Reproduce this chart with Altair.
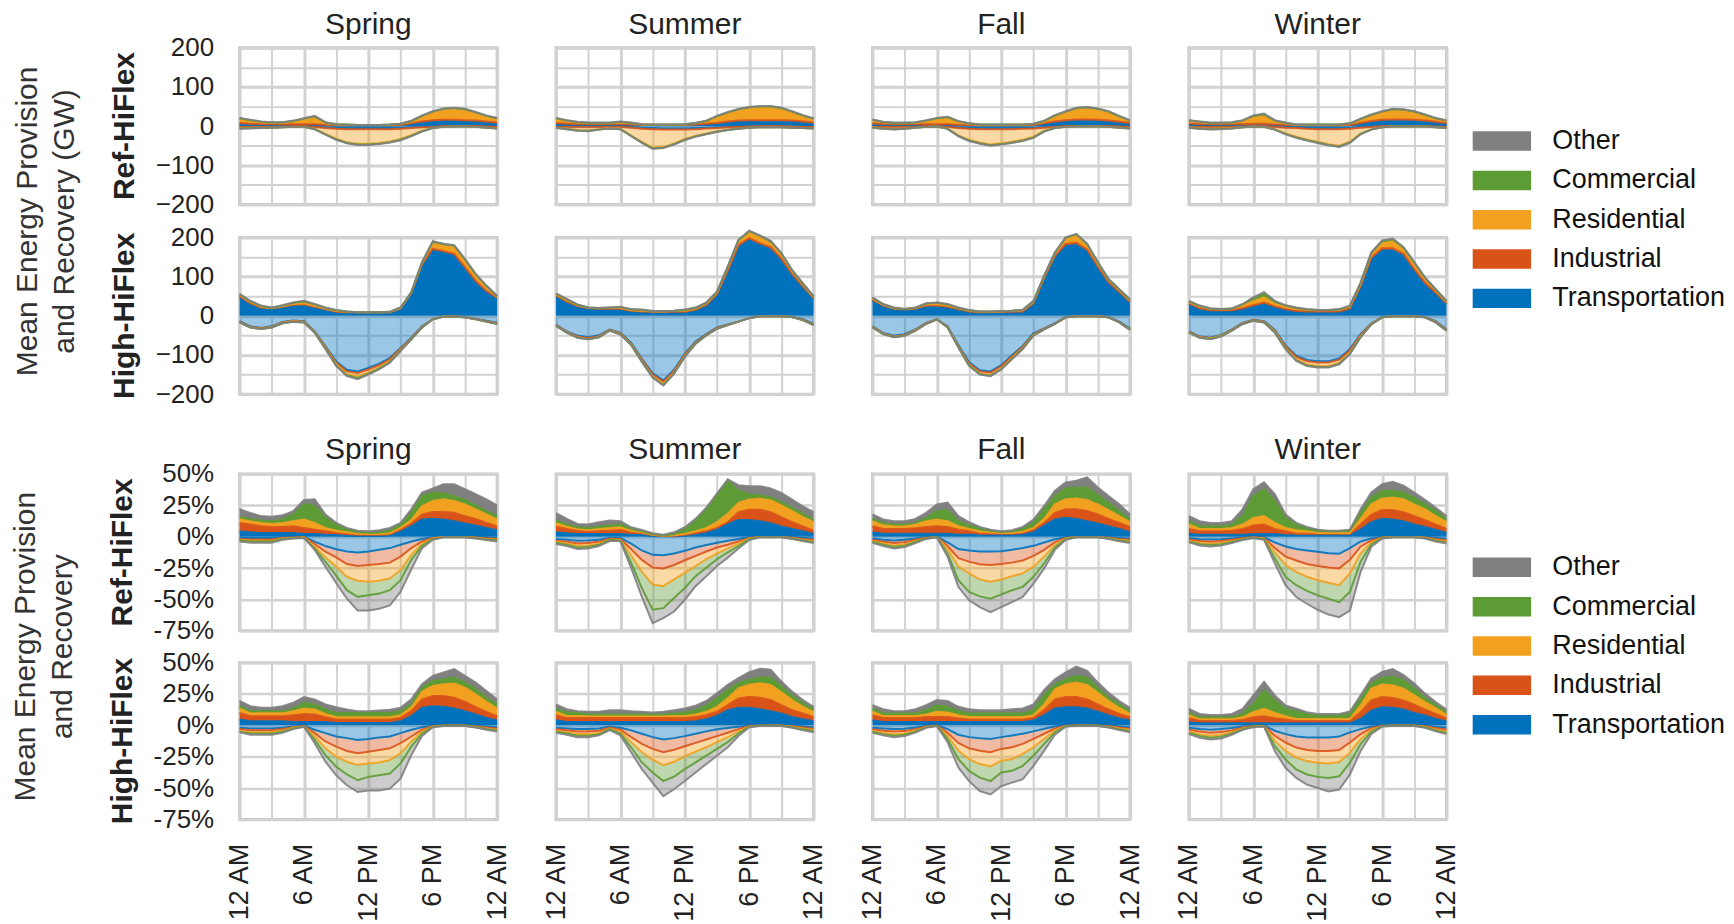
import altair as alt
import pandas as pd

FONT = "Liberation Sans"
HOURS = list(range(25))
SECTORS = ["Transportation", "Industrial", "Residential", "Commercial", "Other"]
LEGEND_ORDER = ["Other", "Commercial", "Residential", "Industrial", "Transportation"]
LEGEND_COLORS = ["#808080", "#5D9B34", "#F2A01F", "#D95319", "#0072BD"]
SEASONS = ["Spring", "Summer", "Fall", "Winter"]
SCENARIOS = ["Ref-HiFlex", "High-HiFlex"]
HOUR_TICKS = [0, 3, 6, 9, 12, 15, 18, 21, 24]
HOUR_LABEL_AT = [0, 6, 12, 18, 24]
HOUR_LABEL_TEXT = ["12 AM", "6 AM", "12 PM", "6 PM", "12 AM"]
GW_TICKS = [-200, -150, -100, -50, 0, 50, 100, 150, 200]
GW_LABELED = [-200, -100, 0, 100, 200]
PCT_TICKS = [-75, -50, -25, 0, 25, 50]
GW_TITLE = ["Mean Energy Provision", "and Recovery (GW)"]
PCT_TITLE = ["Mean Energy Provision", "and Recovery"]

# Each panel: cumulative stack edges (Transportation, +Industrial, +Residential, +Commercial, +Other), hours 0..24
# ---------------- GW, Ref-HiFlex ----------------
GW_REF_SPRING_UP = [
    [5,4,3,3,3,3,3,3,2,1,1,1,1,1,1,2,5,9,12,13,13,12,11,9,6],
    [8,6,5,5,5,5,5,5,3,2,2,2,2,2,2,3,7,12,15,16,16,15,14,12,9],
    [18,13,10,8,8,11,16,21,7,4,3,3,3,3,3,5,11,23,34,41,43,40,33,24,18],
    [20,15,11,9,9,13,19,25,9,5,4,3,3,3,4,6,13,26,37,44,46,43,35,26,20],
    [21,16,12,10,10,14,20,26,10,5,4,3,3,3,4,6,14,27,38,45,47,44,36,27,21]]
GW_REF_SPRING_DN = [
    [-1,-1,-1,-1,-1,0,0,-1,-3,-4,-5,-5,-5,-5,-5,-4,-3,-2,-1,0,0,0,0,0,-1],
    [-2,-2,-2,-2,-1,0,0,-2,-5,-7,-8,-8,-8,-8,-8,-7,-5,-3,-2,0,0,0,0,-1,-2],
    [-5,-4,-4,-4,-3,-2,-2,-7,-20,-32,-41,-45,-45,-43,-39,-33,-23,-12,-5,-2,-1,-1,-2,-4,-5],
    [-6,-5,-5,-4,-3,-2,-2,-8,-21,-34,-43,-47,-47,-45,-41,-35,-25,-13,-5,-2,-1,-1,-2,-4,-6],
    [-7,-6,-5,-4,-3,-2,-2,-8,-22,-35,-44,-48,-48,-46,-42,-36,-26,-14,-5,-2,-1,-1,-2,-4,-6]]
GW_REF_SUMMER_UP = [
    [5,4,3,3,3,3,3,2,2,2,2,2,2,3,4,6,9,11,12,12,12,12,11,9,6],
    [8,6,5,5,5,5,5,4,3,3,3,3,3,4,6,8,12,14,15,15,15,15,14,12,9],
    [18,12,9,7,7,7,9,7,4,3,3,3,4,7,12,23,33,40,45,47,47,43,35,25,17],
    [20,14,10,8,8,8,11,8,5,4,4,4,5,8,13,25,35,43,48,50,50,46,37,27,19],
    [21,15,11,9,9,9,12,9,5,4,4,4,5,8,14,26,36,44,49,51,51,47,38,28,20]]
GW_REF_SUMMER_DN = [
    [-1,-1,-1,-1,-1,-1,-1,-2,-4,-5,-6,-6,-6,-5,-4,-3,-2,-1,-1,0,0,0,0,-1,-1],
    [-2,-2,-2,-2,-2,-2,-2,-4,-7,-8,-9,-9,-9,-8,-6,-5,-3,-2,-1,0,0,0,-1,-2,-2],
    [-4,-7,-10,-11,-8,-5,-7,-24,-40,-55,-53,-44,-33,-25,-19,-13,-9,-6,-4,-3,-3,-3,-4,-5,-6],
    [-4,-8,-11,-12,-9,-6,-8,-25,-42,-57,-55,-46,-35,-26,-20,-14,-10,-7,-4,-3,-3,-3,-4,-5,-6],
    [-4,-8,-12,-13,-9,-6,-8,-26,-43,-58,-56,-47,-36,-27,-21,-15,-10,-7,-4,-3,-3,-3,-4,-5,-6]]
GW_REF_FALL_UP = [
    [4,3,3,3,3,3,3,3,2,1,1,1,1,1,1,2,5,9,12,14,14,13,11,8,5],
    [7,5,5,5,5,5,5,5,3,2,2,2,2,2,2,3,7,12,15,17,17,16,14,11,8],
    [14,9,7,7,8,12,17,19,10,6,3,3,3,3,3,5,11,24,34,43,45,41,35,23,12],
    [16,10,8,8,9,14,20,23,12,7,4,4,4,4,4,6,13,27,37,46,48,44,37,25,14],
    [17,11,9,9,10,15,21,24,13,7,4,4,4,4,4,6,14,28,38,47,49,45,38,26,15]]
GW_REF_FALL_DN = [
    [-1,-1,-1,-1,-1,0,0,-1,-3,-4,-5,-5,-5,-5,-4,-4,-2,-1,0,0,0,0,0,-1,-1],
    [-2,-2,-2,-2,-2,0,0,-2,-5,-7,-8,-8,-8,-8,-7,-6,-4,-2,0,0,0,0,0,-1,-2],
    [-3,-6,-7,-6,-4,-2,-1,-6,-24,-35,-42,-47,-44,-40,-35,-27,-12,-4,-2,-1,-1,-1,-2,-4,-5],
    [-4,-7,-8,-7,-4,-2,-1,-7,-25,-37,-44,-49,-46,-42,-37,-29,-13,-5,-2,-1,-1,-1,-2,-4,-6],
    [-4,-7,-9,-7,-4,-2,-1,-7,-26,-38,-45,-50,-47,-43,-38,-30,-14,-5,-2,-1,-1,-1,-2,-4,-6]]
GW_REF_WINTER_UP = [
    [4,3,3,3,3,3,3,3,2,2,1,1,1,1,1,2,6,10,13,14,14,13,11,8,5],
    [7,5,5,5,5,5,6,6,4,3,2,2,2,2,2,3,8,13,16,17,17,16,14,11,8],
    [12,10,7,7,8,12,22,25,12,7,3,3,3,3,3,6,16,26,34,40,39,34,27,18,12],
    [14,11,8,8,9,14,26,30,14,8,4,4,4,4,4,7,18,29,37,43,42,37,29,20,14],
    [15,12,9,9,10,15,27,32,15,9,4,4,4,4,4,7,19,30,38,44,43,38,30,21,15]]
GW_REF_WINTER_DN = [
    [-1,-1,-1,-1,-1,0,0,0,-1,-2,-3,-4,-5,-5,-5,-4,-2,-1,0,0,0,0,0,0,-1],
    [-2,-2,-2,-2,-2,-1,0,0,-2,-4,-5,-7,-8,-8,-8,-7,-4,-2,0,0,0,0,0,-1,-2],
    [-3,-6,-7,-6,-5,-3,-1,-2,-8,-19,-27,-34,-40,-46,-50,-40,-19,-8,-3,-1,-1,-1,-1,-3,-4],
    [-4,-7,-8,-7,-6,-3,-1,-2,-9,-20,-29,-36,-42,-48,-52,-42,-20,-9,-3,-1,-1,-1,-1,-3,-5],
    [-4,-7,-9,-8,-6,-3,-1,-2,-9,-21,-30,-37,-43,-49,-53,-43,-21,-9,-3,-1,-1,-1,-1,-3,-5]]
# ---------------- GW, High-HiFlex ----------------
GW_HIGH_SPRING_UP = [
    [47,30,19,17,21,26,26,21,15,9,8,8,8,8,8,17,56,128,167,161,154,120,85,60,43],
    [50,32,21,19,23,28,29,23,17,10,9,9,9,9,9,18,58,131,171,165,158,124,89,63,46],
    [53,35,23,19,24,30,32,25,18,12,10,9,9,9,9,20,59,134,185,179,175,140,103,73,48],
    [55,37,25,20,26,33,37,29,20,14,11,9,9,9,10,21,60,136,189,183,179,144,106,76,50],
    [56,38,26,21,27,34,38,30,21,15,11,9,9,9,10,21,60,137,190,184,180,145,107,77,51]]
GW_HIGH_SPRING_DN = [
    [-14,-27,-31,-27,-16,-12,-14,-40,-78,-117,-138,-142,-133,-122,-108,-82,-56,-27,-9,-2,-2,-4,-8,-13,-18],
    [-15,-28,-32,-28,-17,-13,-15,-41,-80,-120,-142,-146,-137,-126,-111,-84,-57,-28,-9,-2,-2,-4,-8,-14,-19],
    [-16,-29,-33,-29,-18,-14,-16,-42,-82,-124,-149,-154,-145,-132,-116,-87,-59,-29,-9,-2,-2,-4,-9,-15,-20],
    [-17,-30,-34,-30,-19,-15,-17,-43,-84,-127,-152,-159,-148,-135,-118,-89,-60,-30,-9,-2,-2,-4,-9,-15,-21],
    [-17,-30,-34,-30,-19,-15,-17,-43,-85,-128,-154,-162,-150,-137,-120,-90,-60,-30,-9,-2,-2,-4,-9,-15,-21]]
GW_HIGH_SUMMER_UP = [
    [49,34,23,19,17,17,17,12,10,9,9,9,9,15,27,53,113,177,194,181,171,143,104,72,43],
    [52,36,25,20,18,18,18,13,11,10,10,10,10,16,28,55,115,180,198,185,175,146,107,75,45],
    [54,40,27,20,19,20,20,14,13,11,11,12,13,18,31,59,122,190,213,201,187,156,113,80,47],
    [56,42,28,21,20,21,22,16,15,12,12,13,15,20,33,61,125,193,216,204,190,159,116,82,49],
    [57,43,29,21,20,21,23,17,16,12,12,13,16,21,34,62,126,194,217,205,191,160,117,83,50]]
GW_HIGH_SUMMER_DN = [
    [-23,-40,-51,-55,-50,-35,-44,-69,-110,-147,-165,-138,-97,-66,-47,-30,-22,-15,-6,-1,-1,-1,-3,-9,-21],
    [-24,-41,-53,-57,-52,-36,-45,-71,-112,-150,-168,-141,-99,-68,-48,-31,-23,-15,-6,-1,-1,-1,-3,-10,-22],
    [-25,-42,-55,-59,-54,-37,-47,-73,-115,-155,-174,-145,-102,-70,-49,-32,-24,-15,-6,-1,-1,-1,-3,-11,-23],
    [-26,-43,-56,-60,-55,-38,-48,-74,-117,-157,-177,-147,-104,-71,-50,-33,-24,-15,-6,-1,-1,-1,-3,-11,-24],
    [-26,-43,-56,-60,-55,-38,-48,-75,-118,-158,-178,-148,-105,-72,-50,-33,-24,-15,-6,-1,-1,-1,-3,-11,-24]]
GW_HIGH_FALL_UP = [
    [38,24,17,15,17,24,24,21,15,10,8,8,9,9,10,30,94,150,179,182,165,122,83,58,34],
    [41,26,18,16,18,26,26,23,17,11,9,9,10,10,11,32,96,153,183,186,169,126,86,61,36],
    [44,28,19,17,19,29,30,26,19,13,10,10,11,12,14,35,100,158,196,204,180,133,91,65,39],
    [46,29,20,17,20,31,33,29,20,14,11,11,12,13,15,37,102,161,199,208,183,136,93,67,41],
    [47,30,21,17,21,32,34,30,21,15,11,11,12,13,15,38,103,162,200,209,184,137,94,68,42]]
GW_HIGH_FALL_DN = [
    [-27,-44,-51,-47,-35,-18,-9,-27,-75,-119,-139,-142,-126,-101,-77,-45,-32,-19,-4,-1,-1,-1,-4,-15,-33],
    [-28,-45,-53,-49,-36,-19,-9,-28,-77,-122,-142,-145,-129,-104,-79,-47,-33,-20,-4,-1,-1,-1,-4,-16,-34],
    [-29,-46,-54,-50,-37,-20,-9,-29,-79,-125,-147,-151,-134,-108,-82,-49,-34,-21,-4,-1,-1,-1,-4,-17,-35],
    [-30,-47,-55,-51,-38,-21,-9,-30,-80,-127,-149,-153,-136,-110,-84,-50,-35,-21,-4,-1,-1,-1,-4,-17,-36],
    [-30,-47,-55,-51,-38,-21,-9,-30,-81,-128,-150,-154,-137,-111,-85,-51,-35,-21,-4,-1,-1,-1,-4,-17,-36]]
GW_HIGH_WINTER_UP = [
    [30,17,13,13,13,17,24,30,21,15,10,10,10,10,10,17,73,145,167,167,154,115,81,56,30],
    [32,19,14,14,14,19,27,34,24,17,12,11,11,11,11,19,76,149,172,172,158,119,84,59,32],
    [35,23,17,16,17,26,37,47,31,23,18,15,14,14,15,23,81,157,185,190,170,132,94,65,35],
    [37,25,18,17,18,29,45,57,36,26,20,16,15,15,16,25,84,161,190,195,174,136,97,67,37],
    [38,26,19,17,19,30,47,60,38,27,21,17,15,15,17,26,85,162,192,197,175,137,98,68,38]]
GW_HIGH_WINTER_DN = [
    [-40,-53,-56,-49,-35,-18,-10,-14,-36,-76,-102,-113,-116,-116,-109,-85,-47,-19,-4,-1,-1,-1,-4,-14,-35],
    [-41,-54,-57,-50,-36,-19,-11,-15,-38,-78,-105,-116,-119,-119,-112,-88,-49,-20,-4,-1,-1,-1,-4,-15,-36],
    [-42,-55,-58,-51,-37,-20,-12,-16,-40,-82,-111,-124,-128,-128,-120,-94,-52,-21,-4,-1,-1,-1,-4,-16,-37],
    [-43,-56,-59,-52,-38,-21,-13,-17,-42,-84,-114,-127,-131,-131,-123,-97,-54,-22,-4,-1,-1,-1,-4,-17,-38],
    [-43,-56,-60,-53,-38,-21,-13,-17,-43,-85,-115,-128,-132,-132,-124,-98,-55,-22,-4,-1,-1,-1,-4,-17,-38]]
# ---------------- Percent, Ref-HiFlex ----------------
PCT_REF_SPRING_UP = [
    [4.3,3.5,3,3,3,3,2.4,2.2,1.6,1.3,0.8,0.5,0.5,0.5,1,4.3,8.3,13.7,14.2,13.7,12.4,10.5,8.9,7,5.1],
    [11,9.7,8.3,7.8,7.8,8.3,7,5.6,4.3,3,2.2,1.5,1.5,1.5,2,5.6,10.5,17.7,19.6,19.6,19,16.4,14.2,11,8.3],
    [14,12.4,11,10.2,11,12.4,13.7,11,7,4.8,3.5,2.3,2.1,2.1,2.8,7,13.2,24.5,28.5,29.8,28.5,25.8,21.8,17.7,13.7],
    [16,14,13,12.4,13.7,17.7,25.8,24.5,15,9.7,6.2,3.8,3.1,3.3,4.8,9.7,19,32.5,35.2,34.7,32.5,29.3,25,20.4,16.4],
    [22,19,16.4,15.9,17,20.4,29.3,29.8,17.7,11,7,4.8,4.3,5.1,7,11,21.8,35.2,38.4,41.9,41.9,37.9,33.9,29.8,25]]
PCT_REF_SPRING_DN = [
    [-1,-1,-1,-1,-0.5,-0.3,0,-4,-7.5,-10,-11.8,-12.6,-11.8,-10.5,-9.1,-6.5,-3.8,-1.9,-0.5,-0.1,-0.1,-0.1,-0.3,-0.6,-1],
    [-2,-2.2,-2.2,-2.2,-1,-0.6,-0.3,-6,-12,-16.5,-21.8,-23.4,-22.6,-21.8,-20.7,-15.9,-9.1,-3.8,-1,-0.2,-0.2,-0.2,-0.6,-1.2,-1.8],
    [-2.4,-3.2,-3.2,-3.2,-1.5,-1,-0.5,-8,-16.5,-24,-32,-35.2,-36,-35.2,-33.3,-26.6,-14.5,-5.6,-1.5,-0.3,-0.3,-0.3,-0.9,-1.8,-2.5],
    [-3,-3.8,-3.8,-3.8,-2,-1.2,-0.8,-9.5,-20,-31,-42.7,-48,-46.8,-45.4,-42.7,-34.7,-18.5,-7.3,-2,-0.4,-0.4,-0.4,-1.2,-2.2,-3],
    [-3.8,-4.8,-4.8,-4.8,-2.5,-1.5,-1,-10.5,-24,-37,-49.5,-58.9,-58.9,-57.5,-54.8,-44,-26,-9.1,-2.5,-0.5,-0.5,-0.5,-1.5,-2.7,-3.8]]
PCT_REF_SUMMER_UP = [
    [3.5,2.7,2.2,2.2,2.2,2.2,2.2,1.6,1.6,0.3,0.3,0.3,0.8,2.2,3.5,6.2,10.2,13.4,13.4,12.4,10.8,8.1,6.2,4.3,2.2],
    [8.1,6.2,4.8,4.3,4.3,4.8,5.4,3.5,2.7,1.3,0.5,0.8,1.6,2.7,4.3,7,11.6,19.6,21.5,21.5,19.6,15.6,11.6,8.1,4.8],
    [10.8,8.1,6.2,5.4,6.2,7,7.5,4.8,3.5,1.6,0.7,1.1,2.2,4.3,7,11.6,18.3,26.9,29.6,30.4,29,25,20.4,15.6,11.6],
    [12.9,9.7,7.5,7,8.1,8.9,9.7,6.2,4.3,2.2,0.9,2.2,6.2,12.9,21.5,33.1,44.6,36.6,33.9,33.1,31.2,27.7,23.1,18.3,13.4],
    [18.8,14.2,10.2,9.7,11.6,12.9,12.4,7.5,5.4,2.7,1.6,3.5,7.5,14.2,23.1,34.4,45.7,41.1,40.3,40.3,38.4,34.9,29.6,24.2,19.6]]
PCT_REF_SUMMER_DN = [
    [-1.9,-2.5,-3.2,-3,-2.5,-1,-1,-5.5,-11,-14.5,-14.8,-13.4,-11.3,-8.6,-6.7,-4.8,-3.2,-1.9,-0.5,-0.1,-0.1,-0.1,-0.4,-1,-1.5],
    [-3.2,-4,-5.4,-5,-4,-1.6,-1.8,-10,-18.5,-24.7,-25.3,-22.6,-18.8,-15.3,-11.8,-8.6,-6.5,-3.8,-1,-0.2,-0.2,-0.2,-0.8,-1.8,-2.5],
    [-4,-5.5,-7.3,-7,-5.5,-2.2,-2.5,-15,-28,-38.2,-39.5,-34.1,-28.8,-23.4,-18,-13.4,-9.4,-5.6,-1.5,-0.3,-0.3,-0.3,-1.2,-2.5,-3.5],
    [-4.8,-6.5,-8.6,-8.3,-6.5,-2.7,-3,-21,-41,-58.3,-57,-48.9,-40.9,-31.5,-24.7,-18,-12.6,-7.5,-2,-0.4,-0.4,-0.4,-1.5,-3,-4.2],
    [-5.9,-7.5,-9.9,-9.5,-7.5,-3.5,-3.5,-25,-48,-69,-65,-59.7,-50.3,-39.5,-31.5,-23.4,-16.7,-9.5,-2.7,-0.5,-0.5,-0.5,-1.9,-3.5,-5]]
PCT_REF_FALL_UP = [
    [3.5,2.4,2.4,2.4,2.4,2.4,2.4,2.4,1.6,1.6,1.6,1.6,1.6,1.6,2.2,4.3,8.9,13.7,15,14.2,12.4,10.5,8.3,6.2,3.5],
    [8.3,6.2,6.2,6.2,6.7,7.8,8.3,7.8,5.6,4.3,2.4,2.4,2.4,2.4,3,5.1,11,19,21.8,21.8,20.4,17.7,14.2,11,7.8],
    [12.4,8.9,8.9,8.9,9.7,12.4,13.7,12.4,8.3,6.2,4.3,3.5,3,3,4,7,14.2,25.8,29.8,30.4,29.3,25.8,21.2,16.4,11.6],
    [14.2,11,9.7,9.7,11,15,20.4,21.2,12.4,8.9,6.2,4.8,3.8,4.3,6.2,11,21.8,32.5,38.4,39.2,39.2,33.1,27.2,20.4,13.7],
    [17.7,13.7,12.4,12.4,14.2,19,25.8,27.2,16.4,11.6,7.8,5.6,4.3,5.1,7.8,13.7,24.5,36.6,43.3,44.6,47.3,39.2,32.5,25.8,17.7]]
PCT_REF_FALL_DN = [
    [-1.5,-2.5,-3,-2.5,-1.5,-0.4,0,-4.5,-9.9,-11,-11.8,-11.8,-11.6,-10.5,-9.1,-7.3,-4.6,-2,-0.5,-0.1,-0.1,-0.1,-0.4,-1,-1.5],
    [-2.5,-4,-5,-4.5,-2.5,-0.8,-0.2,-7.5,-17.2,-19.9,-22,-22.6,-21.8,-20.7,-19,-15.3,-10.5,-4.3,-1,-0.2,-0.2,-0.2,-0.8,-1.8,-2.5],
    [-3.5,-5.5,-7,-6.2,-3.5,-1.2,-0.3,-10,-23.9,-29.3,-34.1,-36,-34.1,-31.5,-29.3,-23.9,-15.9,-6.5,-1.5,-0.3,-0.3,-0.3,-1.2,-2.5,-3.5],
    [-4,-6.5,-8.3,-7.2,-4.2,-1.5,-0.4,-13.5,-34.7,-44,-47.6,-49.5,-46,-42.7,-40,-32,-21.2,-8.5,-2,-0.4,-0.4,-0.4,-1.5,-3,-4.2],
    [-4.8,-7.5,-9.5,-8.3,-5,-1.8,-0.5,-16,-40,-50.8,-56.2,-60.2,-56.2,-52.2,-48.1,-37.4,-25.3,-10.5,-2.5,-0.5,-0.5,-0.5,-1.8,-3.6,-5]]
PCT_REF_WINTER_UP = [
    [2.4,1.6,1.6,1.6,1.6,1.6,2.2,2.2,2.2,1.1,1.1,1.1,1.1,1.1,1.1,1.1,5.6,11.6,14.2,13.7,12.4,9.7,7.8,5.6,3],
    [6.2,4.3,4.3,4.3,4.8,6.2,8.9,9.7,6.2,4.3,2.4,2.4,2.4,2.4,2.4,2.4,9.7,17.7,21.2,21.2,19.6,16.4,13.2,9.7,6.2],
    [9.7,6.2,6.2,6.2,7,9.7,15,16.4,11,7,5.1,4.3,3,3,3,3,14.2,25.8,30.4,31.2,29.8,25.8,21.8,16.4,11.6],
    [12.4,8.3,8.3,8.3,9.7,16.4,32.5,37.9,28.5,15,9.7,7,5.1,4.3,4.3,5.1,19,31.2,36.6,36.6,35.2,31.2,25.8,20.4,13.7],
    [16.4,12.4,11,11,12.4,21.8,37.9,43.3,33.9,17.7,11,7.8,5.6,4.8,4.8,5.6,21.8,35.2,41.9,43.8,40.6,35.2,29.3,23.1,16.4]]
PCT_REF_WINTER_DN = [
    [-1.2,-2,-2.3,-2,-1.4,-0.7,-0.2,-0.5,-4.6,-7.8,-9.9,-11,-12.1,-13.2,-13.7,-9.1,-3.8,-1.5,-0.3,-0.1,-0.1,-0.1,-0.3,-1,-1.6],
    [-2.2,-3.5,-4,-3.5,-2.5,-1.3,-0.4,-1,-9.1,-15.9,-19,-21.8,-23.4,-24.5,-25.3,-18.5,-7.8,-3,-0.6,-0.2,-0.2,-0.2,-0.6,-1.8,-2.8],
    [-3.2,-5,-5.6,-5,-3.5,-1.8,-0.6,-1.5,-12.6,-22.6,-28,-32,-34.7,-36.8,-38.7,-29.3,-13.2,-4.5,-0.9,-0.3,-0.3,-0.3,-0.9,-2.6,-3.8],
    [-3.8,-6,-6.6,-6,-4.2,-2.2,-0.8,-2,-17.2,-32,-38.7,-43.3,-46.8,-49.5,-52.2,-44,-19.9,-6,-1.2,-0.4,-0.4,-0.4,-1.2,-3.2,-4.6],
    [-4.5,-7,-7.8,-7,-5,-2.6,-1,-2.5,-21.2,-38.7,-48.1,-53.5,-58.3,-62.1,-64.2,-58.9,-28,-8,-1.5,-0.5,-0.5,-0.5,-1.5,-3.8,-5.5]]
# ---------------- Percent, High-HiFlex ----------------
PCT_HIGH_SPRING_UP = [
    [4.6,3.2,3.2,3.2,3.2,2.7,2.7,2.7,2.7,1.9,1.9,1.9,1.9,1.9,1.9,3.2,7.3,14,15.3,14.8,13.4,11.3,8.6,5.9,3.8],
    [9.9,7.3,7.3,7.3,7.3,8.1,9.1,8.6,6.4,4.6,4.6,4.6,4.6,4.6,4.6,5.9,11.3,20.7,23.4,23.4,22,18.8,14.5,10.8,7.3],
    [13.4,9.9,9.9,9.9,9.9,11.3,13.4,12.6,9.1,6.4,6.4,6.4,6.4,6.4,6.4,8.1,14.5,26.9,31.5,32.8,33.3,30,24.7,18.8,13.4],
    [15.3,11.3,11.3,11.3,11.3,13.4,18,16.7,12.6,9.9,9.9,9.9,9.9,9.9,9.9,11.3,16.7,30,35.5,36.8,38.2,34.1,28.8,22,16.7],
    [19.4,15.3,14,14,15.3,18,22.6,20.7,16.7,14.5,12.6,11.3,11.3,11.8,12.4,14,20.7,32.8,39.5,42.2,44.9,39.5,34.1,27.4,20.7]]
PCT_HIGH_SPRING_DN = [
    [-2,-2.5,-2.5,-2.5,-2,-1,-0.3,-3.5,-6.2,-8.9,-10.2,-11.6,-10.8,-9.7,-8.9,-6.2,-3.5,-1.5,-0.3,-0.1,-0.1,-0.1,-0.4,-1,-1.5],
    [-3,-4,-4,-4,-3,-1.5,-0.5,-6.2,-12.9,-17,-20.4,-22.3,-21,-19.6,-18.3,-14.2,-8.9,-3.5,-0.6,-0.2,-0.2,-0.2,-0.8,-1.8,-2.5],
    [-4.3,-5.5,-5.5,-5.5,-4,-2,-0.7,-8.9,-18.3,-25,-29,-31.7,-30.4,-29.6,-27.7,-22.3,-12.9,-5,-0.9,-0.3,-0.3,-0.3,-1.2,-2.5,-3.5],
    [-5,-6.5,-6.5,-6.5,-5,-2.5,-0.9,-11.6,-23.7,-33,-39.2,-43.8,-41.1,-39.8,-38.4,-30.4,-17,-6.5,-1.2,-0.4,-0.4,-0.4,-1.5,-3,-4.2],
    [-5.5,-7.5,-7.5,-7.5,-6,-3,-1.1,-14.2,-29,-39.8,-47.8,-53.2,-51.9,-51.9,-50.5,-42.5,-23.7,-8.5,-1.5,-0.5,-0.5,-0.5,-1.8,-3.5,-5]]
PCT_HIGH_SUMMER_UP = [
    [4,2.7,2.7,2.7,2.7,2.7,2.7,2.7,2.7,2.7,2.7,2.7,2.7,3.2,4.8,7.5,12.1,14,14,12.9,11.3,9.4,6.7,4.8,3.2],
    [8.1,5.9,5.9,5.9,5.9,5.9,5.9,5.9,5.9,5.9,5.9,5.9,5.9,6.7,8.1,10.8,16.1,21.5,22.8,22,20.2,16.1,12.1,9.4,6.7],
    [10.8,7.5,7.5,7.5,7.5,7.5,7.5,7.5,7.5,7.5,7.5,7.5,7.5,8.6,10.8,14.8,21.5,29.6,32.3,33.6,32.3,26.3,20.2,14.8,10.8],
    [12.9,10.2,10.2,8.6,8.6,8.6,8.6,8.6,8.6,8.6,8.6,9.4,10.2,12.1,15.6,21.5,28.2,33.6,36.3,38.2,38.2,30.9,23.7,17.5,12.9],
    [16.7,12.9,11.3,10.8,10.8,12.1,12.1,11.3,10.8,10.2,10.8,12.1,13.4,15.6,19.4,25.5,32.3,37.6,42.5,45.2,44.4,34.9,26.9,20.2,14.8]]
PCT_HIGH_SUMMER_DN = [
    [-2,-2.5,-3,-3,-2.5,-1,-2,-4,-6.7,-9.4,-11.3,-10.2,-8.6,-6.7,-4.8,-3.2,-2.2,-1.2,-0.3,-0.1,-0.1,-0.1,-0.4,-1,-1.5],
    [-3.2,-4,-5,-5,-4.3,-1.8,-3.5,-9.4,-14.8,-18.8,-21.5,-19.4,-16.7,-14,-11.3,-8.6,-5.9,-3,-0.6,-0.2,-0.2,-0.2,-0.8,-1.8,-2.7],
    [-4.3,-5.5,-7,-7,-6,-2.5,-5,-13.4,-21.5,-27.4,-31.7,-29,-24.7,-21,-17.5,-13.4,-9.4,-4.8,-0.9,-0.3,-0.3,-0.3,-1.2,-2.6,-3.7],
    [-5,-6.5,-8.3,-8.3,-7,-3,-6.5,-17.5,-29.6,-37.6,-44.4,-40.9,-34.9,-29.6,-24.2,-18.8,-13.4,-6.5,-1.2,-0.4,-0.4,-0.4,-1.6,-3.2,-4.5],
    [-6,-7.5,-9.5,-9.5,-8,-3.8,-8,-21.5,-34.9,-45.7,-56.5,-51,-44.4,-37.6,-30.9,-24.2,-17.5,-8.5,-1.5,-0.5,-0.5,-0.5,-2,-4,-5.5]]
PCT_HIGH_FALL_UP = [
    [4,2.7,2.7,2.7,2.7,2.7,2.7,2.7,2.7,2.7,2.7,2.7,2.7,2.7,2.7,4,8.1,13.4,14.5,14.5,13.4,10.8,8.1,5.4,3.8],
    [8.1,5.9,5.9,5.9,5.9,6.7,6.7,6.7,5.4,4.6,4.6,4.6,4.6,4.6,4.6,5.9,12.1,20.7,22.6,22.6,20.7,16.7,12.6,9.1,6.5],
    [10.8,7.5,7.5,7.5,7.5,8.6,10.8,10.2,8.1,6.7,6.7,6.7,6.7,6.7,6.7,8.1,16.7,28.8,32.8,34.1,32.3,26,19.4,13.9,9.1],
    [13.4,9.4,9.4,9.4,9.4,12.1,16.1,14.8,11.3,9.4,9.4,9.4,9.4,9.4,9.4,12.1,24.2,32.8,36.8,39.5,38.2,30.1,22,16.7,11.3],
    [16.1,12.9,11.3,11.3,12.9,16.1,20.2,19.4,14.8,12.9,12.1,12.1,12.1,12.9,13.4,16.7,28.2,36.8,42.2,46.8,43.5,34.1,26,19.4,13.9]]
PCT_HIGH_FALL_DN = [
    [-2,-2.5,-3,-2.7,-1.8,-0.5,0,-3,-7.5,-9.4,-10.2,-10.8,-9.4,-8.1,-6.7,-4.8,-2.7,-1,-0.2,-0.1,-0.1,-0.1,-0.4,-1,-1.6],
    [-3.2,-4.3,-5,-4.6,-3,-0.9,-0.2,-6,-14,-18.3,-20.2,-21.5,-18.8,-17.5,-14.8,-10.8,-6.7,-2.5,-0.4,-0.2,-0.2,-0.2,-0.8,-1.8,-2.8],
    [-4.3,-5.9,-7,-6.5,-4.2,-1.3,-0.3,-8.5,-20.2,-26.9,-30.9,-32.8,-28.2,-26.9,-22.8,-17.5,-10.8,-4,-0.6,-0.3,-0.3,-0.3,-1.2,-2.6,-3.8],
    [-5,-7,-8.3,-7.5,-5,-1.6,-0.4,-11,-26.9,-36.3,-41.7,-44.4,-37.6,-36.3,-32.3,-24.2,-14.8,-5.5,-0.8,-0.4,-0.4,-0.4,-1.5,-3.2,-4.6],
    [-6,-8,-9.5,-8.6,-5.8,-2,-0.5,-13.5,-33.6,-44.4,-52.4,-55.1,-48.4,-45.7,-43,-32.3,-20.2,-7.5,-1,-0.5,-0.5,-0.5,-1.8,-3.8,-5.5]]
PCT_HIGH_WINTER_UP = [
    [2.4,1.6,1.6,1.6,1.6,1.6,1.6,1.6,1.6,1.6,1.6,1.6,1.6,1.6,1.6,1.6,5.1,11.8,14.5,14,12.6,9.9,7.8,5.1,3],
    [5.6,3.8,3.8,3.8,3.8,4.3,6.5,7.3,5.6,4.6,3.5,3.5,3.5,3.5,3.5,3.5,10.5,19.9,22.6,21.8,19.9,16.4,12.6,9.1,5.6],
    [8.3,5.1,5.1,5.1,5.1,6.5,10.5,13.2,9.9,7.3,5.1,5.1,5.1,5.1,5.1,5.1,15.9,29.3,32.5,32,29.3,23.9,18.5,13.7,8.3],
    [9.9,6.5,6.5,6.5,6.5,9.1,17.2,28,19.9,13.2,11,9.1,7.8,7.8,7.8,9.1,21.2,33.4,37.9,38.7,36,29.3,21.8,15.9,10.5],
    [13.2,9.1,8.3,8.3,9.1,13.2,23.9,34.7,23.9,15.9,13.2,10.5,9.1,9.1,9.1,11,23.9,37.4,42.7,44.9,40.1,33.4,25.3,18.5,12.6]]
PCT_HIGH_WINTER_DN = [
    [-2,-3,-3.5,-3,-2.2,-1,-0.3,-0.2,-4.3,-7,-8.9,-9.7,-9.7,-9.7,-8.9,-5.6,-3,-1,-0.2,-0.1,-0.1,-0.1,-0.4,-1.2,-2],
    [-3.5,-5,-6,-5.4,-4,-1.8,-0.6,-0.4,-8.3,-13.7,-17.7,-19.6,-20.4,-20.4,-19.6,-13.7,-7,-2.3,-0.4,-0.2,-0.2,-0.2,-0.8,-2.2,-3.5],
    [-5,-7,-8.3,-7.5,-5.5,-2.5,-0.9,-0.6,-12.4,-20.4,-25.8,-28.5,-29.8,-30.4,-29.3,-21.8,-11,-3.6,-0.6,-0.3,-0.3,-0.3,-1.2,-3.2,-5],
    [-6,-8.5,-9.8,-9,-6.5,-3,-1.2,-0.8,-16.4,-27.2,-35.2,-39.2,-41.1,-41.9,-40.6,-29.8,-15,-5,-0.8,-0.4,-0.4,-0.4,-1.6,-4,-6],
    [-7,-10,-11.3,-10.5,-7.5,-3.6,-1.5,-1,-20.4,-33.9,-41.9,-47.3,-50,-52.7,-51.3,-39.2,-20.4,-6.8,-1,-0.5,-0.5,-0.5,-2,-4.8,-7]]

GW_PANELS = [
    ("Ref-HiFlex", "Spring", GW_REF_SPRING_UP, GW_REF_SPRING_DN),
    ("Ref-HiFlex", "Summer", GW_REF_SUMMER_UP, GW_REF_SUMMER_DN),
    ("Ref-HiFlex", "Fall", GW_REF_FALL_UP, GW_REF_FALL_DN),
    ("Ref-HiFlex", "Winter", GW_REF_WINTER_UP, GW_REF_WINTER_DN),
    ("High-HiFlex", "Spring", GW_HIGH_SPRING_UP, GW_HIGH_SPRING_DN),
    ("High-HiFlex", "Summer", GW_HIGH_SUMMER_UP, GW_HIGH_SUMMER_DN),
    ("High-HiFlex", "Fall", GW_HIGH_FALL_UP, GW_HIGH_FALL_DN),
    ("High-HiFlex", "Winter", GW_HIGH_WINTER_UP, GW_HIGH_WINTER_DN),
]
PCT_PANELS = [
    ("Ref-HiFlex", "Spring", PCT_REF_SPRING_UP, PCT_REF_SPRING_DN),
    ("Ref-HiFlex", "Summer", PCT_REF_SUMMER_UP, PCT_REF_SUMMER_DN),
    ("Ref-HiFlex", "Fall", PCT_REF_FALL_UP, PCT_REF_FALL_DN),
    ("Ref-HiFlex", "Winter", PCT_REF_WINTER_UP, PCT_REF_WINTER_DN),
    ("High-HiFlex", "Spring", PCT_HIGH_SPRING_UP, PCT_HIGH_SPRING_DN),
    ("High-HiFlex", "Summer", PCT_HIGH_SUMMER_UP, PCT_HIGH_SUMMER_DN),
    ("High-HiFlex", "Fall", PCT_HIGH_FALL_UP, PCT_HIGH_FALL_DN),
    ("High-HiFlex", "Winter", PCT_HIGH_WINTER_UP, PCT_HIGH_WINTER_DN),
]


def build_frame(panels):
    rows = []
    for scen, season, up, dn in panels:
        for sign, layers in (("up", up), ("dn", dn)):
            assert len(layers) == 5
            prev = [0] * 25
            for k, sec in enumerate(SECTORS):
                top = layers[k]
                assert len(top) == 25, (scen, season, sign, sec, len(top))
                for h in HOURS:
                    rows.append(dict(scenario=scen, season=season, sign=sign,
                                     sector=sec, hour=h, top=top[h], base=prev[h]))
                prev = top
    return pd.DataFrame(rows)


df_gw = build_frame(GW_PANELS)
df_pct = build_frame(PCT_PANELS)

GRID = "#d2d2d2"
TXT = "#222222"
label_js = "[" + ",".join("'%s'" % t for t in HOUR_LABEL_TEXT) + "]"
at_js = "[" + ",".join(str(v) for v in HOUR_LABEL_AT) + "]"
hour_expr = "indexof(%s, datum.value) >= 0 ? %s[indexof(%s, datum.value)] : ''" % (at_js, label_js, at_js)
gw_expr = "indexof([%s], datum.value) >= 0 ? datum.label : ''" % ",".join(str(v) for v in GW_LABELED)


def x_axis(show_labels):
    kw = dict(values=HOUR_TICKS, title=None, grid=True, gridColor=GRID,
              gridWidth={"condition": {"test": "datum.value % 6 == 0", "value": 3}, "value": 2},
              ticks=False, tickSize=0, domain=False, labelOverlap=False, labelFlush=False, labelBound=False)
    if show_labels:
        kw.update(labelExpr=hour_expr, labelAngle=-90, labelFontSize=27, labelFont=FONT,
                  labelColor=TXT, labelPadding=22)
    else:
        kw.update(labels=False)
    return alt.Axis(**kw)


def y_axis(kind):
    kw = dict(title=None, grid=True, gridColor=GRID, ticks=False, tickSize=0, domain=False,
              labelFontSize=26, labelFont=FONT, labelColor=TXT, labelPadding=20,
              labelOverlap=False, labelFlush=False, labelBound=False)
    if kind == "gw":
        kw.update(values=GW_TICKS, format="d", labelExpr=gw_expr,
                  gridWidth={"condition": {"test": "datum.value % 100 == 0", "value": 3}, "value": 2})
    else:
        kw.update(values=PCT_TICKS, labelExpr="datum.value + '%'", gridWidth=2.5)
    return alt.Axis(**kw)


SYMBOL = "M-1.5,-0.5H1.5V0.5H-1.5Z"


def block(df, kind, domain, title, show_x, row_spacing):
    yenc = alt.Y("top:Q", scale=alt.Scale(domain=domain, nice=False, zero=False), axis=y_axis(kind))
    xenc = alt.X("hour:Q", scale=alt.Scale(domain=[0, 24], nice=False, zero=False), axis=x_axis(show_x))
    area = alt.Chart().mark_area(strokeWidth=0).encode(
        x=xenc, y=yenc, y2="base:Q",
        color=alt.Color("sector:N", scale=alt.Scale(domain=LEGEND_ORDER, range=LEGEND_COLORS),
                        legend=alt.Legend(title=None, orient="none", legendX=1245, legendY=74,
                                          symbolType=SYMBOL, symbolSize=1521, symbolStrokeWidth=0,
                                          symbolOpacity=1, labelFontSize=27, labelFont=FONT,
                                          labelColor="#111111", labelOffset=31, rowPadding=6.4,
                                          labelLimit=0, padding=0)),
        fillOpacity=alt.FillOpacity("sign:O", scale=alt.Scale(domain=["up", "dn"], range=[1.0, 0.4]),
                                    legend=None),
    )
    line = alt.Chart().mark_line(strokeWidth=2, strokeOpacity=0.9).encode(
        x=xenc, y=yenc,
        stroke=alt.Stroke("sector:N", scale=alt.Scale(domain=LEGEND_ORDER, range=LEGEND_COLORS),
                          legend=None),
        detail="sign:N",
    )
    layered = alt.layer(area, line).properties(width=258, height=157)
    return layered.facet(
        data=df,
        row=alt.Row("scenario:N", sort=SCENARIOS, title=title,
                    header=alt.Header(labelAngle=-90, labelFontSize=30, labelFontWeight="bold",
                                      labelFont=FONT, labelColor=TXT, labelPadding=0,
                                      labelOrient="left", titleOrient="left", titleFontSize=30,
                                      titleFontWeight="normal", titleFont=FONT, titleColor="#333333",
                                      titlePadding=20, titleLineHeight=37)),
        column=alt.Column("season:N", sort=SEASONS, title=None,
                          header=alt.Header(labelFontSize=30, labelFont=FONT, labelColor=TXT,
                                            labelPadding=6)),
        spacing={"row": row_spacing, "column": 47},
    )


top = block(df_gw, "gw", [-200, 200], GW_TITLE, False, 18)
bottom = block(df_pct, "pct", [-75, 50], PCT_TITLE, True, 28)

chart = (
    alt.vconcat(top, bottom, spacing=28)
    .resolve_scale(y="independent")
    .resolve_legend(color="independent")
    .properties(padding={"left": 2, "top": 1, "right": 0, "bottom": 0}, background="white")
    .configure_view(stroke="#c8c8c8", strokeWidth=3)
)

chart.save("out.html", embed_options={"renderer": "svg", "actions": False})
